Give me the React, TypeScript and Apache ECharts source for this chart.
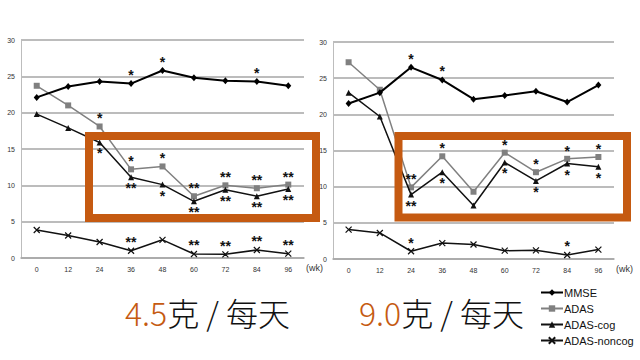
import React, { useEffect, useRef } from "react";
import * as echarts from "echarts";

const weeks = ["0", "12", "24", "36", "48", "60", "72", "84", "96"];
const yTicks = [0, 30, 5];

// 4.5 g / day
const leftMmse = [22.1, 23.6, 24.3, 24.0, 25.8, 24.8, 24.4, 24.3, 23.7];
const leftAdas = [23.7, 21.0, 18.1, 12.2, 12.6, 8.5, 10.0, 9.6, 10.1];
const leftCog = [19.8, 17.9, 15.9, 11.1, 10.1, 7.8, 9.4, 8.5, 9.5];
const leftNoncog = [3.85, 3.1, 2.2, 1.0, 2.5, 0.55, 0.5, 1.1, 0.6];
const leftMmseStars = ["", "", "", "*", "*", "", "", "*", ""];
const leftAdasStars = ["", "", "*", "*", "*", "**", "**", "**", "**"];
const leftCogStars = ["", "", "*", "**", "*", "**", "**", "**", "**"];
const leftNoncogStars = ["", "", "", "**", "", "**", "**", "**", "**"];

// 9.0 g / day
const rightMmse = [21.5, 23.0, 26.5, 24.75, 22.1, 22.6, 23.2, 21.7, 24.05];
const rightAdas = [27.2, 23.4, 9.9, 14.2, 9.3, 14.7, 12.0, 13.85, 14.1];
const rightCog = [23.0, 19.7, 8.9, 12.0, 7.4, 13.35, 10.8, 13.2, 12.75];
const rightNoncog = [4.07, 3.6, 1.07, 2.2, 2.0, 1.15, 1.2, 0.55, 1.3];
const rightMmseStars = ["", "", "*", "*", "", "", "", "", ""];
const rightAdasStars = ["", "", "**", "*", "", "*", "*", "*", "*"];
const rightCogStars = ["", "", "**", "*", "", "*", "*", "*", "*"];
const rightNoncogStars = ["", "", "*", "", "", "", "", "*", ""];

const seriesNames = ["MMSE", "ADAS", "ADAS-cog", "ADAS-noncog"];
const titles = [
  { dose: "4.5", rest: "克 / 每天" },
  { dose: "9.0", rest: "克 / 每天" },
];

const ORANGE = "#C55A11";
const CROSS = "path://M0,0L10,10M10,0L0,10";

type Style = {
  color: string;
  width: number;
  symbol: string;
  size: number | number[];
};

const styles: Record<string, Style> = {
  MMSE: { color: "#000", width: 2, symbol: "diamond", size: [6, 7] },
  ADAS: { color: "#808080", width: 1.5, symbol: "rect", size: 6 },
  "ADAS-cog": { color: "#111", width: 1.5, symbol: "triangle", size: 6 },
  "ADAS-noncog": { color: "#111", width: 1.5, symbol: CROSS, size: 6 },
};

function mk(name: string, values: number[], stars: string[], pos: "top" | "bottom", idx: number) {
  const s = styles[name];
  return {
    name,
    type: "line",
    xAxisIndex: idx,
    yAxisIndex: idx,
    data: values.map((v, i) => ({
      value: v,
      label: {
        show: !!stars[i],
        formatter: stars[i],
        position: pos,
        distance: pos === "top" ? -2 : 1,
        fontSize: 14,
        fontWeight: "bold",
        color: "#111",
        fontFamily: "Liberation Sans",
      },
    })),
    symbol: s.symbol,
    symbolSize: s.size,
    showAllSymbol: true,
    lineStyle: { color: s.color, width: s.width },
    itemStyle: {
      color: s.color,
      borderColor: s.color,
      borderWidth: name === "ADAS-noncog" ? 1.2 : 0,
    },
    emphasis: { disabled: true },
    z: name === "ADAS" ? 2 : 3,
  };
}

export default function App() {
  const ref = useRef<HTMLDivElement>(null);
  useEffect(() => {
    if (!ref.current) return;
    const chart = echarts.init(ref.current, undefined, { renderer: "svg" });
    const grids = [
      { left: 21, top: 40, width: 283, height: 218 },
      { left: 333, top: 42, width: 281, height: 217 },
    ];
    const xAxes = grids.map((_, i) => ({
      type: "category",
      gridIndex: i,
      data: weeks,
      boundaryGap: true,
      axisTick: { show: false },
      axisLine: { lineStyle: { color: "#a6a6a6", width: 1.5 } },
      axisLabel: { fontSize: 7, color: "#333", margin: 8, fontFamily: "Liberation Sans" },
      name: "(wk)",
      nameLocation: "end",
      nameGap: 2,
      nameTextStyle: {
        fontSize: 9,
        color: "#333",
        fontFamily: "Liberation Sans",
        verticalAlign: "top",
        padding: [5, 0, 0, 0],
      },
    }));
    const yAxes = grids.map((_, i) => ({
      type: "value",
      gridIndex: i,
      min: yTicks[0],
      max: yTicks[1],
      interval: yTicks[2],
      axisTick: { show: false },
      axisLine: { show: true, lineStyle: { color: "#bdbdbd", width: 1 } },
      splitLine: { lineStyle: { color: "#a6a6a6", width: 1.5 } },
      axisLabel: { fontSize: 7, color: "#333", margin: 6, fontFamily: "Liberation Sans" },
    }));
    const series = [
      mk("MMSE", leftMmse, leftMmseStars, "top", 0),
      mk("ADAS", leftAdas, leftAdasStars, "top", 0),
      mk("ADAS-cog", leftCog, leftCogStars, "bottom", 0),
      mk("ADAS-noncog", leftNoncog, leftNoncogStars, "top", 0),
      mk("MMSE", rightMmse, rightMmseStars, "top", 1),
      mk("ADAS", rightAdas, rightAdasStars, "top", 1),
      mk("ADAS-cog", rightCog, rightCogStars, "bottom", 1),
      mk("ADAS-noncog", rightNoncog, rightNoncogStars, "top", 1),
    ];
    const titleX = [125, 359];
    chart.setOption({
      animation: false,
      grid: grids,
      xAxis: xAxes,
      yAxis: yAxes,
      series,
      legend: {
        data: seriesNames,
        orient: "vertical",
        left: 535,
        top: 282,
        itemWidth: 22,
        itemHeight: 8,
        itemGap: 5,
        selectedMode: false,
        textStyle: { fontSize: 11, color: "#111", fontFamily: "Liberation Sans", padding: [0, 0, 0, -4] },
      },
      graphic: [
        {
          type: "rect",
          z: 100,
          shape: { x: 89, y: 136, width: 227, height: 82 },
          style: { fill: "none", stroke: ORANGE, lineWidth: 8 },
        },
        {
          type: "rect",
          z: 100,
          shape: { x: 398.5, y: 136, width: 228.5, height: 81.5 },
          style: { fill: "none", stroke: ORANGE, lineWidth: 8 },
        },
        ...titles.map((t, i) => ({
          type: "text",
          z: 100,
          x: titleX[i],
          y: 312,
          style: {
            text: `{o|${t.dose}}{k|${t.rest}}`,
            verticalAlign: "middle",
            align: "left",
            rich: {
              o: { fontSize: 32, fill: ORANGE, fontFamily: "Noto Sans CJK SC", fontWeight: 300 },
              k: { fontSize: 32, fill: "#111", fontFamily: "Noto Sans CJK SC", fontWeight: 300 },
            },
          },
        })),
      ],
    });
    return () => chart.dispose();
  }, []);
  return (
    <div
      ref={ref}
      style={{ position: "absolute", left: 0, top: 0, width: 640, height: 360, background: "#fff" }}
    />
  );
}
